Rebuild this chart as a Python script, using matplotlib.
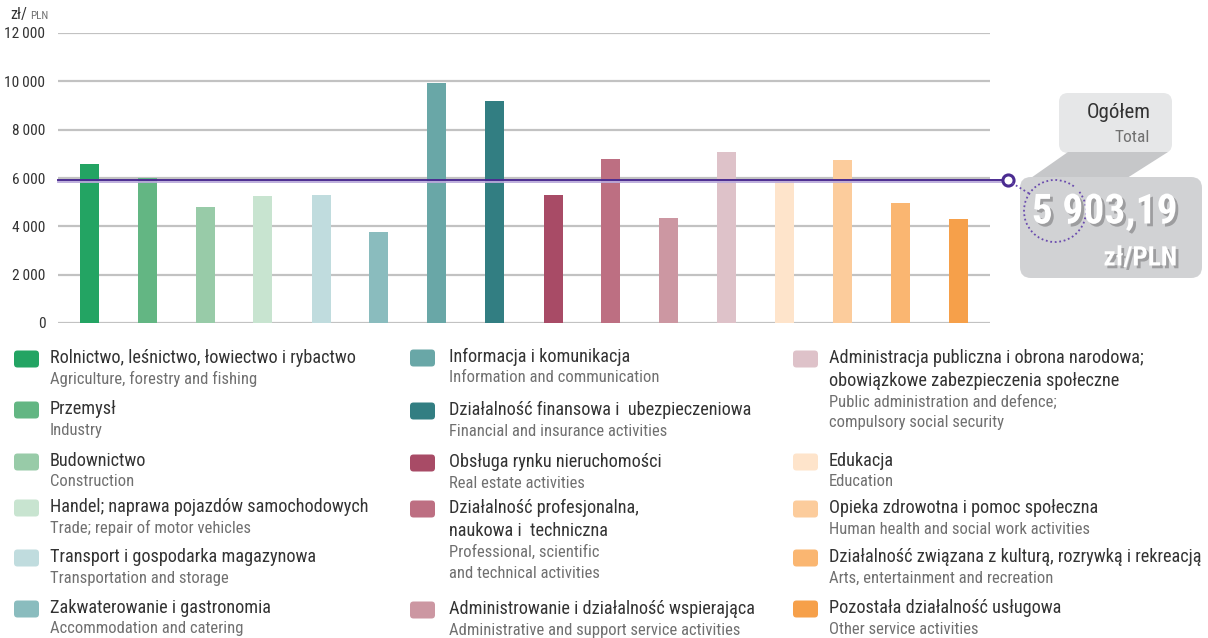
import numpy as np
import matplotlib
matplotlib.use("Agg")
import matplotlib.pyplot as plt
from matplotlib import font_manager
from matplotlib.patches import FancyBboxPatch, Polygon, Arc
import matplotlib.patheffects as pe

# ---------------- data ----------------
labels_pl = [
    "Rolnictwo, leśnictwo, łowiectwo i rybactwo",
    "Przemysł",
    "Budownictwo",
    "Handel; naprawa pojazdów samochodowych",
    "Transport i gospodarka magazynowa",
    "Zakwaterowanie i gastronomia",
    "Informacja i komunikacja",
    "Działalność finansowa i  ubezpieczeniowa",
    "Obsługa rynku nieruchomości",
    "Działalność profesjonalna,\nnaukowa i  techniczna",
    "Administrowanie i działalność wspierająca",
    "Administracja publiczna i obrona narodowa;\nobowiązkowe zabezpieczenia społeczne",
    "Edukacja",
    "Opieka zdrowotna i pomoc społeczna",
    "Działalność związana z kulturą, rozrywką i rekreacją",
    "Pozostała działalność usługowa",
]
labels_en = [
    "Agriculture, forestry and fishing",
    "Industry",
    "Construction",
    "Trade; repair of motor vehicles",
    "Transportation and storage",
    "Accommodation and catering",
    "Information and communication",
    "Financial and insurance activities",
    "Real estate activities",
    "Professional, scientific\nand technical activities",
    "Administrative and support service activities",
    "Public administration and defence;\ncompulsory social security",
    "Education",
    "Human health and social work activities",
    "Arts, entertainment and recreation",
    "Other service activities",
]
values = [6590, 5990, 4810, 5255, 5300, 3770, 9950, 9190,
          5280, 6800, 4345, 7060, 5860, 6745, 4950, 4305]
colors = ["#23A463", "#63B683", "#98CBA8", "#C8E4D0", "#C0DCDE", "#8ABCBE",
          "#69A7A7", "#327E82", "#A84B66", "#BD6F82", "#CC97A2", "#DEC2C9",
          "#FEE4CB", "#FCCC9C", "#FAB671", "#F6A04A"]
total = 5903.19
yticks = [0, 2000, 4000, 6000, 8000, 10000, 12000]
ytick_labels = ["0", "2\u2009000", "4\u2009000", "6\u2009000", "8\u2009000",
                "10\u2009000", "12\u2009000"]

# ---------------- fonts ----------------
entries = font_manager.fontManager.ttflist
names = {f.name for f in entries}
FAM, STRETCH = None, "normal"
for cand in ["Liberation Sans Narrow", "Roboto Condensed", "Open Sans Condensed",
             "Noto Sans Condensed", "DejaVu Sans Condensed"]:
    if cand in names:
        FAM = cand
        break
if FAM is None:
    cond = [f for f in entries if f.name == "DejaVu Sans" and str(f.stretch) in ("condensed", "semi-condensed", "75", "87")]
    if cond:
        FAM, STRETCH = "DejaVu Sans", "condensed"
    else:
        FAM = "Roboto" if "Roboto" in names else "DejaVu Sans"
plt.rcParams["font.family"] = [FAM, "DejaVu Sans"]
plt.rcParams["font.stretch"] = STRETCH

DARK = "#333333"
GREY = "#707070"

W, H = 1208, 638
fig = plt.figure(figsize=(W / 100, H / 100), dpi=100)
renderer = fig.canvas.get_renderer()


def fit(txt, target_px, weight="normal", base=20.0):
    t = fig.text(0, 0, txt, fontsize=base, fontweight=weight)
    w = t.get_window_extent(renderer=renderer).width
    t.remove()
    return base * target_px / w


fs_pl = min(fit("Rolnictwo, leśnictwo, łowiectwo i rybactwo", 320),
            fit("Działalność związana z kulturą, rozrywką i rekreacją", 372))
fs_en = fit("Agriculture, forestry and fishing", 207)
fs_tick = min(fit(ytick_labels[-1], 41), 12.5)
tt = f"{total:,.2f}".replace(",", " ").replace(".", ",")
fs_big = fit(tt, 146, "bold")
fs_unit = fit("zł/PLN", 74, "bold")
fs_og = fit("Ogółem", 64)
fs_tot = fit("Total", 35)

# ---------------- bar chart ----------------
x0, x1, ytop, ybot = 58, 990, 33, 323
ax = fig.add_axes([x0 / W, 1 - ybot / H, (x1 - x0) / W, (ybot - ytop) / H])
x = np.arange(len(values))
ax.set_xlim(-31 / 58, len(values) - 1 + 31 / 58)
ax.set_ylim(0, 12000)
ax.set_yticks(yticks)
ax.set_yticklabels(ytick_labels, fontsize=fs_tick, color=DARK)
ax.set_xticks([])
ax.tick_params(axis="y", length=0, pad=9)
for s in ax.spines.values():
    s.set_visible(False)
ax.grid(axis="y", color="#C2C2C2", lw=1.6, zorder=0)
ax.set_axisbelow(True)
ax.bar(x, values, width=19 / 58, color=colors, zorder=2)

# total line (extends beyond plot to the marker)
xe = (1008 - 89) / 58
ax.plot([ax.get_xlim()[0], xe], [total - 55, total - 55], color="#B9A9DA",
        lw=1.3, zorder=3, clip_on=False)
ax.plot([ax.get_xlim()[0], xe], [total, total], color="#4B2C91",
        lw=1.4, zorder=4, clip_on=False)
ax.plot([xe], [total], marker="o", ms=8, mfc="white", mec="#4B2C91",
        mew=2.2, zorder=5, clip_on=False)

# ---------------- overlay (pixel coordinates) ----------------
ov2 = fig.add_axes([0, 0, 1, 1], zorder=10)
ov2.set_xlim(0, W)
ov2.set_ylim(H, 0)
ov2.axis("off")
ov2.patch.set_alpha(0)

# unit label
ov2.text(10, 15, "zł/", fontsize=11.5, color=DARK, va="center", ha="left")
ov2.text(30, 16, "PLN", fontsize=8, color=GREY, va="center", ha="left")

# callout
ov2.add_patch(FancyBboxPatch((1059, 93), 113, 60,
                             boxstyle="round,pad=0,rounding_size=9",
                             fc="#E6E7E8", ec="none"))
ov2.add_patch(Polygon([(1068, 152), (1168, 152), (1124, 180), (1028, 180)],
                      closed=True, fc="#C6C7C9", ec="none"))
ov2.add_patch(FancyBboxPatch((1020, 177), 182, 101,
                             boxstyle="round,pad=0,rounding_size=11",
                             fc="#D1D2D4", ec="none"))
ov2.text(1151, 112, "Ogółem", fontsize=fs_og, color=DARK, ha="right", va="center")
ov2.text(1150, 137, "Total", fontsize=fs_tot, color=GREY, ha="right", va="center")
shadow = [pe.withSimplePatchShadow(offset=(2, -2), shadow_rgbFace="#98989A", alpha=0.9)]
ov2.text(1178, 212, tt, fontsize=fs_big, fontweight="bold", color="white",
         ha="right", va="center", path_effects=shadow)
ov2.text(1177, 258, "zł/PLN", fontsize=fs_unit, fontweight="bold", color="white",
         ha="right", va="center", path_effects=shadow)
# dotted connector and arc
ov2.plot([1012, 1030], [183, 194], color="#6A4BAE", lw=1.3, ls=(0, (1, 1.5)))
ov2.add_patch(Arc((1055, 211), 62, 62, angle=0, theta1=-38, theta2=312,
                  color="#6A4BAE", lw=1.3, ls=(0, (1, 1.5))))

# ---------------- legend ----------------
cols = [(14, 50), (410, 449), (793, 829)]
rows = [
    [358, 409, 461, 507, 557, 608],
    [357, 410, 462, 508, 609],
    [358, 461, 508, 557, 608],
]
idx = 0
for c, ys in enumerate(rows):
    xs, xt = cols[c]
    for yc in ys:
        ov2.add_patch(FancyBboxPatch((xs, yc - 7.5), 25, 17,
                                     boxstyle="round,pad=0,rounding_size=3.5",
                                     fc=colors[idx], ec="none"))
        pl = labels_pl[idx].split("\n")
        en = labels_en[idx].split("\n")
        y = yc
        for line in pl:
            ov2.text(xt, y, line, fontsize=fs_pl, color=DARK, ha="left", va="center")
            y += 23
        y = y - 23 + 21
        for line in en:
            ov2.text(xt, y, line, fontsize=fs_en, color=GREY, ha="left", va="center")
            y += 21
        idx += 1

fig.savefig("out.png", dpi=100)
